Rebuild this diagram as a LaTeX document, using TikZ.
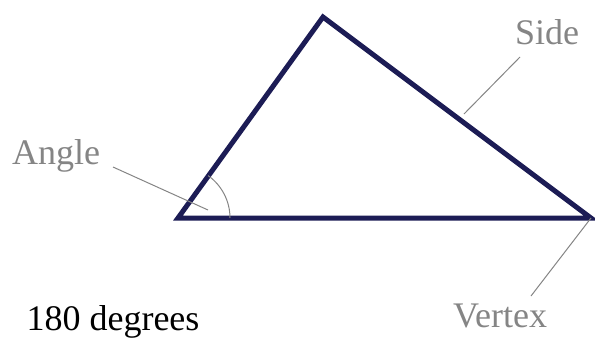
\documentclass[tikz,border=0pt]{standalone}
\usepackage{fontspec}
\setmainfont{Liberation Serif}
\usetikzlibrary{calc,positioning}
\definecolor{navy}{HTML}{1C1C55}
\definecolor{labelgray}{HTML}{858585}

\begin{document}
\begin{tikzpicture}[x=1pt,y=-1pt,
    side/.style={line width=5pt, navy, line join=miter},
    pointer/.style={labelgray, line width=1pt},
    lbl/.style={labelgray, font=\fontsize{36}{42}\selectfont, inner sep=0pt}]
    \useasboundingbox (0,0) rectangle (595,346);

    % Triangle corners
    \coordinate (left) at (178,218);
    \coordinate (top) at (323,17);
    \coordinate (right) at (591,218);

    % Draw the triangle
    \draw[side] (left) -- (top) -- (right) -- cycle;

    % Angle mark at the left corner
    \draw[pointer] ($(left)+(52,0)$) arc[start angle=0, end angle=-54.6, radius=52];

    % Labels
    \node[lbl] (angle) at (56,156) {Angle};
    \node[lbl] (sidelbl) at (547,32) {Side};
    \node[lbl] (vertex) at (500,316) {Vertex};
    \node[inner sep=0pt, font=\fontsize{36}{42}\selectfont] (deg) at (113,322) {180 degrees};

    % Pointer lines
    \coordinate (angleA) at (113,167);
    \coordinate (angleB) at (208,210);
    \coordinate (sideA) at (520,57);
    \coordinate (sideB) at (464,114);
    \coordinate (vertexA) at (531,296);
    \draw[pointer] (angleA) -- (angleB);
    \draw[pointer] (sideA) -- (sideB);
    \draw[pointer] (vertexA) -- (right);
\end{tikzpicture}
\end{document}
